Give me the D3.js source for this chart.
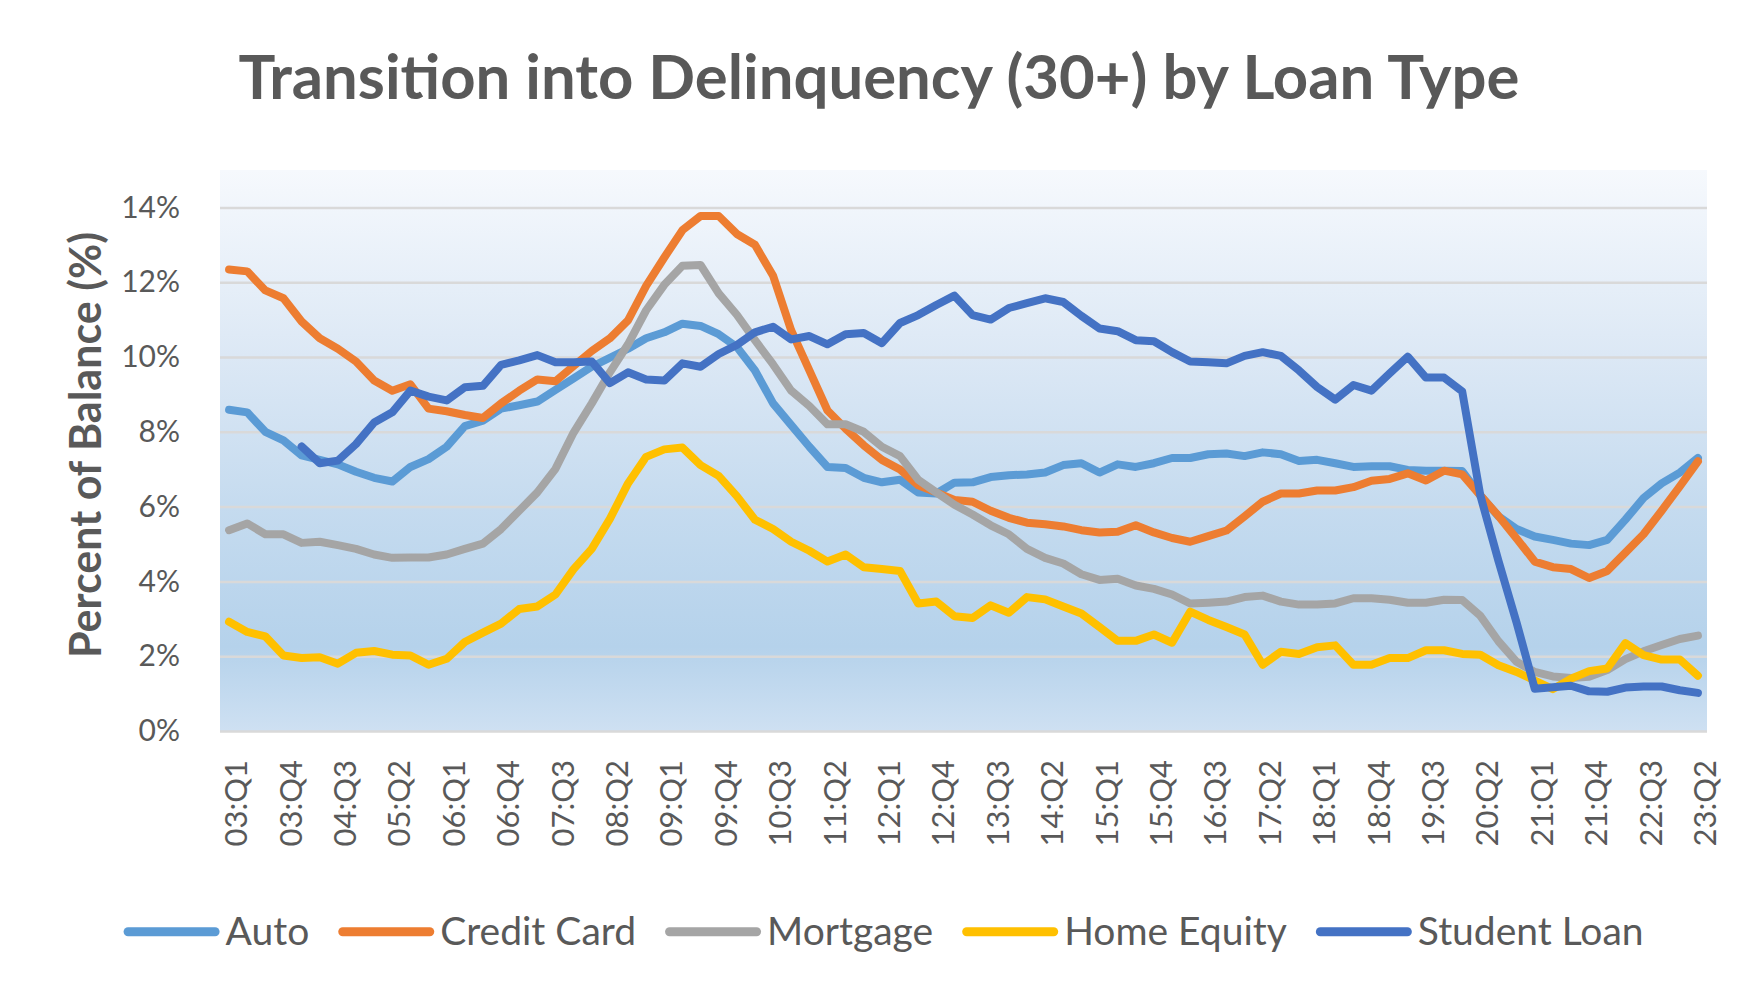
<!DOCTYPE html>
<html lang="en">
<head>
    <meta charset="UTF-8">
    <title>Transition into Delinquency (30+) by Loan Type</title>
    <script src="https://cdn.jsdelivr.net/npm/d3@7"></script>
    <style type="text/css">
        body { margin: 0; background: #ffffff; }
        svg { display: block; font-family: Lato, "Open Sans", sans-serif; }
        .grid line { stroke: #d9d9d9; stroke-width: 2.5; }
        .axis text { fill: #595959; }
    </style>
</head>
<body>
<script>
// quarters 2003 Q1 .. 2023 Q2
const categories = [
    "03:Q1","03:Q2","03:Q3","03:Q4","04:Q1","04:Q2","04:Q3","04:Q4",
    "05:Q1","05:Q2","05:Q3","05:Q4","06:Q1","06:Q2","06:Q3","06:Q4",
    "07:Q1","07:Q2","07:Q3","07:Q4","08:Q1","08:Q2","08:Q3","08:Q4",
    "09:Q1","09:Q2","09:Q3","09:Q4","10:Q1","10:Q2","10:Q3","10:Q4",
    "11:Q1","11:Q2","11:Q3","11:Q4","12:Q1","12:Q2","12:Q3","12:Q4",
    "13:Q1","13:Q2","13:Q3","13:Q4","14:Q1","14:Q2","14:Q3","14:Q4",
    "15:Q1","15:Q2","15:Q3","15:Q4","16:Q1","16:Q2","16:Q3","16:Q4",
    "17:Q1","17:Q2","17:Q3","17:Q4","18:Q1","18:Q2","18:Q3","18:Q4",
    "19:Q1","19:Q2","19:Q3","19:Q4","20:Q1","20:Q2","20:Q3","20:Q4",
    "21:Q1","21:Q2","21:Q3","21:Q4","22:Q1","22:Q2","22:Q3","22:Q4",
    "23:Q1","23:Q2"
];

const tickLabels = [
    "03:Q1","03:Q4","04:Q3","05:Q2","06:Q1","06:Q4","07:Q3","08:Q2",
    "09:Q1","09:Q4","10:Q3","11:Q2","12:Q1","12:Q4","13:Q3","14:Q2",
    "15:Q1","15:Q4","16:Q3","17:Q2","18:Q1","18:Q4","19:Q3","20:Q2",
    "21:Q1","21:Q4","22:Q3","23:Q2"
];

const yTicks = [0, 2, 4, 6, 8, 10, 12, 14];

const auto = [
    8.59, 8.52, 8.00, 7.77, 7.37, 7.25, 7.13, 6.93, 6.77, 6.67, 7.06, 7.27, 7.60, 8.15,
    8.30, 8.62, 8.71, 8.81, 9.12, 9.43, 9.74, 9.98, 10.22, 10.50, 10.66, 10.89, 10.83,
    10.61, 10.27, 9.64, 8.76, 8.18, 7.60, 7.06, 7.03, 6.77, 6.65, 6.72, 6.38, 6.35, 6.64,
    6.65, 6.79, 6.84, 6.86, 6.91, 7.11, 7.16, 6.91, 7.13, 7.06, 7.16, 7.30, 7.30, 7.40,
    7.42, 7.35, 7.45, 7.40, 7.22, 7.25, 7.16, 7.06, 7.08, 7.08, 6.98, 6.96, 6.96, 6.95,
    6.30, 5.74, 5.40, 5.20, 5.11, 5.01, 4.97, 5.11, 5.65, 6.23, 6.62, 6.91, 7.30
];

const creditCard = [
    12.34, 12.29, 11.78, 11.57, 10.95, 10.50, 10.22, 9.88, 9.37, 9.10, 9.27, 8.62, 8.55, 8.45,
    8.37, 8.76, 9.10, 9.40, 9.35, 9.76, 10.16, 10.50, 10.98, 11.90, 12.66, 13.39, 13.77,
    13.77, 13.29, 13.00, 12.17, 10.71, 9.64, 8.57, 8.08, 7.64, 7.25, 6.99, 6.57, 6.38, 6.18,
    6.13, 5.89, 5.70, 5.57, 5.53, 5.47, 5.37, 5.31, 5.33, 5.50, 5.31, 5.16, 5.06, 5.21,
    5.36, 5.74, 6.13, 6.35, 6.35, 6.43, 6.43, 6.52, 6.69, 6.74, 6.89, 6.70, 6.96, 6.86,
    6.30, 5.75, 5.15, 4.53, 4.38, 4.33, 4.09, 4.28, 4.77, 5.26, 5.89, 6.54, 7.21
];

const mortgage = [
    5.37, 5.55, 5.26, 5.26, 5.03, 5.06, 4.97, 4.87, 4.72, 4.63, 4.64, 4.64, 4.72, 4.87,
    5.01, 5.40, 5.89, 6.38, 7.01, 7.98, 8.76, 9.59, 10.34, 11.25, 11.93, 12.44, 12.46,
    11.70, 11.13, 10.45, 9.80, 9.10, 8.69, 8.20, 8.20, 8.00, 7.60, 7.35, 6.72, 6.38, 6.05,
    5.79, 5.50, 5.26, 4.87, 4.63, 4.48, 4.19, 4.04, 4.07, 3.89, 3.80, 3.65, 3.41, 3.43,
    3.46, 3.58, 3.62, 3.46, 3.38, 3.38, 3.41, 3.55, 3.55, 3.51, 3.43, 3.43, 3.51, 3.50,
    3.08, 2.40, 1.85, 1.58, 1.46, 1.42, 1.45, 1.63, 1.92, 2.13, 2.30, 2.46, 2.55
];

const homeEquity = [
    2.92, 2.65, 2.53, 2.02, 1.95, 1.97, 1.80, 2.09, 2.14, 2.04, 2.02, 1.77, 1.93, 2.38,
    2.63, 2.87, 3.26, 3.33, 3.65, 4.33, 4.87, 5.67, 6.62, 7.33, 7.53, 7.58, 7.11,
    6.82, 6.28, 5.65, 5.40, 5.06, 4.82, 4.53, 4.72, 4.38, 4.33, 4.28, 3.41, 3.46, 3.07,
    3.02, 3.36, 3.16, 3.58, 3.52, 3.33, 3.14, 2.78, 2.41, 2.41, 2.58, 2.36, 3.19, 2.97,
    2.78, 2.58, 1.77, 2.12, 2.06, 2.24, 2.29, 1.77, 1.77, 1.95, 1.95, 2.16, 2.16, 2.06,
    2.04, 1.76, 1.58, 1.35, 1.12, 1.40, 1.60, 1.67, 2.35, 2.03, 1.91, 1.91, 1.48
];

const studentLoan = [
    null, null, null, null, 7.61, 7.16, 7.23, 7.67, 8.25, 8.52, 9.10, 8.94, 8.84, 9.19,
    9.23, 9.79, 9.91, 10.05, 9.86, 9.86, 9.88, 9.30, 9.59, 9.40, 9.37, 9.83, 9.74,
    10.08, 10.32, 10.66, 10.81, 10.47, 10.56, 10.34, 10.61, 10.64, 10.37, 10.91, 11.12, 11.39, 11.64,
    11.12, 11.00, 11.31, 11.44, 11.57, 11.47, 11.10, 10.76, 10.69, 10.45, 10.42, 10.13, 9.88, 9.86,
    9.83, 10.03, 10.13, 10.03, 9.64, 9.20, 8.86, 9.25, 9.10, 9.56, 10.01, 9.45, 9.45, 9.08,
    6.30, 4.55, 2.90, 1.13, 1.17, 1.21, 1.06, 1.05, 1.16, 1.19, 1.19, 1.09, 1.02
];

const seriesNames = ["Auto", "Credit Card", "Mortgage", "Home Equity", "Student Loan"];
const seriesColors = ["#5b9bd5", "#ed7d31", "#a5a5a5", "#ffc000", "#4472c4"];
const series = [auto, creditCard, mortgage, homeEquity, studentLoan].map((values, i) => {
    return { name: seriesNames[i], color: seriesColors[i], values: values };
});

let w = 1758;
let h = 998;
let plotLeft = 220, plotRight = 1707, plotTop = 170, plotBottom = 731;

let svg = d3.select("body")
            .append("svg")
            .attr("width", w)
            .attr("height", h);

// plot background gradient
let grad = svg.append("defs")
    .append("linearGradient")
    .attr("id", "plotBg")
    .attr("x1", 0).attr("y1", 0)
    .attr("x2", 0).attr("y2", 1);
[[0, "#f6f9fd"], [0.33, "#dce8f5"], [0.6, "#c5dbef"], [0.85, "#b5d2eb"], [1, "#cee0f2"]]
    .forEach(s => grad.append("stop").attr("offset", s[0]).attr("stop-color", s[1]));

svg.append("rect")
    .attr("x", plotLeft).attr("y", plotTop)
    .attr("width", plotRight - plotLeft).attr("height", plotBottom - plotTop)
    .attr("fill", "url(#plotBg)");

let xScale = d3.scaleBand()
    .domain(categories)
    .range([plotLeft, plotRight])
    .padding(0);

let yScale = d3.scaleLinear()
    .domain([0, 15])
    .range([plotBottom, plotTop]);

// gridlines
svg.append("g")
    .attr("class", "grid")
    .attr("transform", "translate(" + plotLeft + ",0)")
    .call(d3.axisLeft(yScale).tickValues(yTicks).tickSize(-(plotRight - plotLeft)).tickFormat(""))
    .call(g => g.select(".domain").remove());

// y axis labels
svg.append("g")
    .attr("class", "axis y")
    .attr("transform", "translate(" + plotLeft + ",0)")
    .call(d3.axisLeft(yScale).tickValues(yTicks).tickSize(0).tickPadding(40).tickFormat(d => d + "%"))
    .attr("font-family", null)
    .attr("font-size", null)
    .call(g => g.select(".domain").remove())
    .selectAll("text")
    .style("font-size", "30px");

// x axis labels, rotated
svg.append("g")
    .attr("class", "axis x")
    .attr("transform", "translate(0," + plotBottom + ")")
    .call(d3.axisBottom(xScale).tickValues(tickLabels).tickSize(0))
    .attr("font-family", null)
    .attr("font-size", null)
    .call(g => g.select(".domain").remove())
    .selectAll("text")
    .attr("transform", "rotate(-90)")
    .attr("text-anchor", "end")
    .attr("x", -29)
    .attr("y", 7)
    .attr("dy", "0.36em")
    .style("font-size", "31px");

// lines
let line = d3.line()
    .defined(d => d != null)
    .x((d, i) => xScale(categories[i]) + xScale.bandwidth() / 2)
    .y(d => yScale(d));

svg.selectAll(".series")
    .data(series)
    .enter()
    .append("path")
    .attr("class", "series")
    .attr("d", d => line(d.values))
    .attr("fill", "none")
    .attr("stroke", d => d.color)
    .attr("stroke-width", 8)
    .attr("stroke-linejoin", "round")
    .attr("stroke-linecap", "round");

// title
svg.append("text")
    .attr("x", 879)
    .attr("y", 99)
    .attr("text-anchor", "middle")
    .attr("fill", "#595959")
    .attr("textLength", 1281)
    .attr("lengthAdjust", "spacingAndGlyphs")
    .style("font-size", "62px")
    .style("font-weight", "bold")
    .text("Transition into Delinquency (30+) by Loan Type");

// y axis title
svg.append("text")
    .attr("transform", "translate(101,445) rotate(-90)")
    .attr("text-anchor", "middle")
    .attr("fill", "#595959")
    .style("font-size", "43px")
    .style("font-weight", "bold")
    .text("Percent of Balance (%)");

// legend
let legend = svg.append("g");
let lx = 0;
series.forEach(s => {
    let item = legend.append("g").attr("transform", "translate(" + lx + ",0)");
    item.append("line")
        .attr("x1", 4.5).attr("x2", 91.5)
        .attr("y1", 0).attr("y2", 0)
        .attr("stroke", s.color)
        .attr("stroke-width", 9)
        .attr("stroke-linecap", "round");
    let t = item.append("text")
        .attr("x", 102)
        .attr("dy", "0.33em")
        .attr("fill", "#595959")
        .style("font-size", "39px")
        .text(s.name);
    lx += 102 + t.node().getComputedTextLength() + 29;
});
let legendW = lx - 29;
legend.attr("transform", "translate(" + (883.6 - legendW / 2) + ",931.7)");
</script>
</body>
</html>
